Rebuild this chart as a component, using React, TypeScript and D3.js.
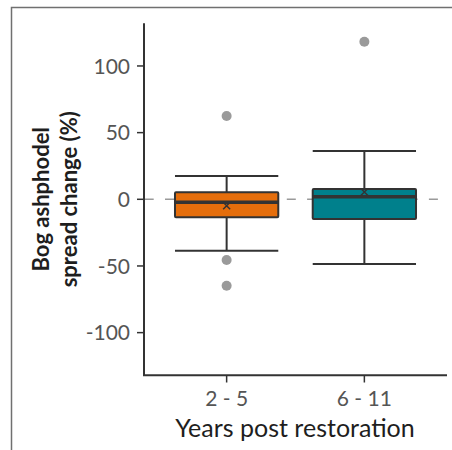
import React from "react";
import * as d3 from "d3";

// Restoration age groups and their box-plot statistics (% change)
const categories = ["2 - 5", "6 - 11"];
const whiskerLow = [-38.5, -48.5];
const q1 = [-13.5, -14.8];
const medians = [-2.3, 2.0];
const q3 = [5.2, 7.7];
const whiskerHigh = [17.5, 36.2];
const means = [-4.8, 5.5];
const outliers = [[62.5, -45.5, -64.8], [118.2]];
const fills = ["#e56e0c", "#00808c"];
const yTicks = [100, 50, 0, -50, -100];

const W = 452;
const H = 450;
const FONT = "Lato, 'Open Sans', sans-serif";

export default function App() {
  const x = d3.scalePoint<string>().domain(categories).range([144, 447]).padding(0.6);
  const y = d3.scaleLinear().domain([-132, 132]).range([375.3, 23.3]);
  const boxW = x.step() * 0.75;
  const dark = "#333333";

  return (
    <svg
      width={W}
      height={H}
      style={{ position: "fixed", left: 0, top: 0, background: "#fff" }}
    >
      {/* outer frame */}
      <rect x={11.5} y={7.5} width={460} height={460} fill="none" stroke="#707070" strokeWidth={1.5} />

      {/* zero reference line */}
      <line
        x1={144.7}
        x2={447}
        y1={y(0)}
        y2={y(0)}
        stroke="#9a9a9a"
        strokeWidth={1.5}
        strokeDasharray="9 11.3"
      />

      {categories.map((c, i) => {
        const cx = x(c)!;
        const left = cx - boxW / 2;
        const right = cx + boxW / 2;
        return (
          <g key={c}>
            {/* whiskers */}
            <line x1={cx} x2={cx} y1={y(whiskerHigh[i])} y2={y(q3[i])} stroke={dark} strokeWidth={2} />
            <line x1={cx} x2={cx} y1={y(q1[i])} y2={y(whiskerLow[i])} stroke={dark} strokeWidth={2} />
            <line x1={left} x2={right} y1={y(whiskerHigh[i])} y2={y(whiskerHigh[i])} stroke={dark} strokeWidth={2} />
            <line x1={left} x2={right} y1={y(whiskerLow[i])} y2={y(whiskerLow[i])} stroke={dark} strokeWidth={2} />
            {/* box */}
            <rect
              x={left}
              y={y(q3[i])}
              width={boxW}
              height={y(q1[i]) - y(q3[i])}
              fill={fills[i]}
              stroke={dark}
              strokeWidth={2}
              rx={1}
            />
            <line x1={left} x2={right} y1={y(medians[i])} y2={y(medians[i])} stroke={dark} strokeWidth={3.5} />
            {/* outliers */}
            {outliers[i].map((v, j) => (
              <circle key={j} cx={cx} cy={y(v)} r={5} fill="#8f8f8f" opacity={0.9} />
            ))}
            {/* mean marker */}
            <path
              d={`M${cx - 3.5},${y(means[i]) - 3.5}L${cx + 3.5},${y(means[i]) + 3.5}M${cx - 3.5},${y(means[i]) + 3.5}L${cx + 3.5},${y(means[i]) - 3.5}`}
              stroke={dark}
              strokeWidth={1.5}
            />
          </g>
        );
      })}

      {/* y axis */}
      <line x1={144} x2={144} y1={23.3} y2={375.3} stroke={dark} strokeWidth={2} />
      {yTicks.map((t) => (
        <g key={t}>
          <line x1={137} x2={144} y1={y(t)} y2={y(t)} stroke={dark} strokeWidth={1.5} />
          <text
            x={130}
            y={y(t)}
            dy="0.36em"
            textAnchor="end"
            fontFamily={FONT}
            fontSize={21}
            fill="#555555"
          >
            {t}
          </text>
        </g>
      ))}

      {/* x axis */}
      <line x1={143} x2={447} y1={375.3} y2={375.3} stroke={dark} strokeWidth={2} />
      {categories.map((c) => (
        <g key={c}>
          <line x1={x(c)!} x2={x(c)!} y1={375.3} y2={382.5} stroke={dark} strokeWidth={1.5} />
          <text
            x={x(c)!}
            y={406}
            textAnchor="middle"
            fontFamily={FONT}
            fontSize={21}
            fill="#555555"
          >
            {c}
          </text>
        </g>
      ))}

      {/* axis titles */}
      <text x={295} y={437} textAnchor="middle" fontFamily={FONT} fontSize={25} fill="#1e1e1e">
        Years post restoration
      </text>
      <text
        transform={`translate(49,${y(0)}) rotate(-90)`}
        textAnchor="middle"
        fontFamily={FONT}
        fontSize={22}
        fontWeight={700}
        fill="#1e1e1e"
      >
        <tspan x={0} dy={0}>Bog ashphodel</tspan>
        <tspan x={0} dy={28}>spread change (%)</tspan>
      </text>
    </svg>
  );
}
